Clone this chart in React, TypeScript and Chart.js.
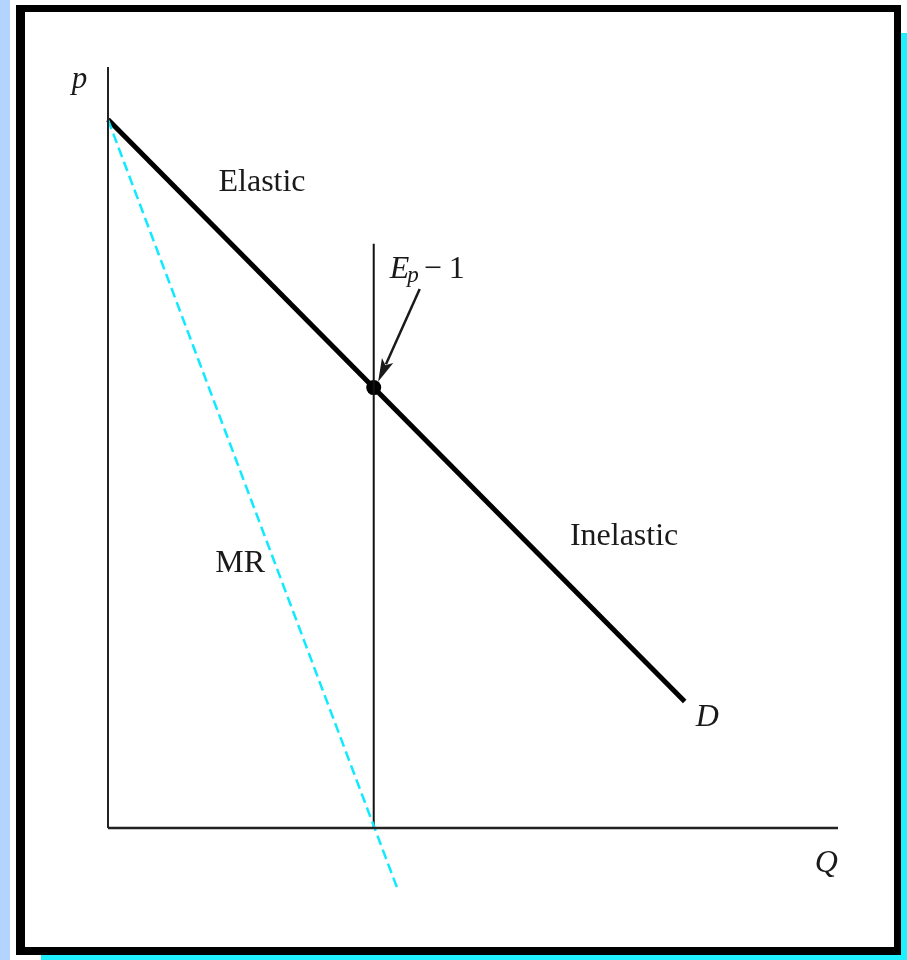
import React, { useEffect, useRef } from "react";
import { Chart, registerables } from "chart.js";

Chart.register(...registerables);

// Quantity (Q) and price (p) values for each curve
const demandQ = [0, 79];
const demandP = [97, 17.3];
const marginalRevenueQ = [0, 39.6];
const marginalRevenueP = [97, -8.2];
const unitElasticQ = [36.4, 36.4];
const unitElasticP = [80, 0];
const unitPointQ = [36.4];
const unitPointP = [60.3];
const quantityAxisQ = [0, 100];
const quantityAxisP = [0, 0];
const priceAxisQ = [0, 0];
const priceAxisP = [104.2, 0];

const Q_MIN = 0;
const Q_MAX = 100;
const P_MIN = -8.5;
const P_MAX = 104.2;

const pts = (qs: number[], ps: number[]) => qs.map((q, i) => ({ x: q, y: ps[i] }));

const SERIF = '"Liberation Serif", "Times New Roman", serif';
const INK = "#1a1a1a";

type Label = { text: string; q: number; p: number; italic?: boolean; size: number; align: CanvasTextAlign };

const labels: Label[] = [
  { text: "p", q: -3.9, p: 102.5, italic: true, size: 31, align: "center" },
  { text: "Elastic", q: 21.1, p: 88.4, size: 32, align: "center" },
  { text: "Inelastic", q: 70.7, p: 39.9, size: 32, align: "center" },
  { text: "MR", q: 18.1, p: 36.2, size: 32, align: "center" },
  { text: "D", q: 82.1, p: 15.1, italic: true, size: 32, align: "center" },
  { text: "Q", q: 98.4, p: -4.9, italic: true, size: 32, align: "center" },
];

// Annotation for the unit-elastic point: "E_p − 1" with an arrow to the dot
const elasticityNote = { q: 38.6, p: 75.3 };
const arrowFrom = { q: 42.7, p: 73.8 };
const arrowTo = { q: 37.0, p: 61.1 };

const annotations = {
  id: "annotations",
  afterDatasetsDraw(chart: any) {
    const { ctx, scales } = chart;
    const X = (q: number) => scales.x.getPixelForValue(q);
    const Y = (p: number) => scales.y.getPixelForValue(p);
    ctx.save();
    ctx.fillStyle = INK;
    ctx.strokeStyle = INK;
    ctx.textBaseline = "middle";
    for (const l of labels) {
      ctx.font = `${l.italic ? "italic " : ""}${l.size}px ${SERIF}`;
      ctx.textAlign = l.align;
      ctx.fillText(l.text, X(l.q), Y(l.p));
    }

    // E_p − 1
    const bx = X(elasticityNote.q);
    const by = Y(elasticityNote.p);
    ctx.textAlign = "left";
    ctx.textBaseline = "alphabetic";
    ctx.font = `italic 32px ${SERIF}`;
    ctx.fillText("E", bx, by);
    const ew = ctx.measureText("E").width;
    ctx.font = `italic 23px ${SERIF}`;
    ctx.fillText("p", bx + ew - 2, by + 4);
    ctx.font = `32px ${SERIF}`;
    ctx.fillText("\u2212", bx + 34, by);
    ctx.fillText("1", bx + 59, by);

    // arrow
    const x1 = X(arrowFrom.q), y1 = Y(arrowFrom.p);
    const x2 = X(arrowTo.q), y2 = Y(arrowTo.p);
    const ang = Math.atan2(y2 - y1, x2 - x1);
    const head = 24;
    const spread = 0.26;
    ctx.lineWidth = 2.5;
    ctx.beginPath();
    ctx.moveTo(x1, y1);
    ctx.lineTo(x2 - Math.cos(ang) * head * 0.8, y2 - Math.sin(ang) * head * 0.8);
    ctx.stroke();
    ctx.beginPath();
    ctx.moveTo(x2, y2);
    ctx.lineTo(x2 - head * Math.cos(ang - spread), y2 - head * Math.sin(ang - spread));
    ctx.lineTo(x2 - head * 0.75 * Math.cos(ang), y2 - head * 0.75 * Math.sin(ang));
    ctx.lineTo(x2 - head * Math.cos(ang + spread), y2 - head * Math.sin(ang + spread));
    ctx.closePath();
    ctx.fill();
    ctx.restore();
  },
};

export default function App() {
  const canvasRef = useRef<HTMLCanvasElement | null>(null);

  useEffect(() => {
    const canvas = canvasRef.current;
    if (!canvas) return;
    const line = (data: any[], color: string, width: number, dash: number[] = []) => ({
      type: "line" as const,
      data,
      borderColor: color,
      borderWidth: width,
      borderDash: dash,
      pointRadius: 0,
      tension: 0,
      fill: false,
      clip: false as any,
    });
    const chart = new Chart(canvas, {
      type: "line",
      data: {
        datasets: [
          line(pts(priceAxisQ, priceAxisP), "#222", 2),
          line(pts(quantityAxisQ, quantityAxisP), "#222", 2.5),
          line(pts(marginalRevenueQ, marginalRevenueP), "#10eaff", 2.5, [10, 5]),
          line(pts(unitElasticQ, unitElasticP), "#111", 2),
          line(pts(demandQ, demandP), "#000", 5),
          {
            type: "scatter" as const,
            data: pts(unitPointQ, unitPointP),
            pointRadius: 7.5,
            pointBackgroundColor: "#000",
            pointBorderWidth: 0,
            clip: false as any,
          } as any,
        ],
      },
      options: {
        responsive: false,
        animation: false,
        devicePixelRatio: 1,
        layout: { padding: { left: 108, right: 69, top: 67, bottom: 70 } },
        plugins: { legend: { display: false }, tooltip: { enabled: false } },
        scales: {
          x: { type: "linear", min: Q_MIN, max: Q_MAX, display: false },
          y: { type: "linear", min: P_MIN, max: P_MAX, display: false },
        },
      },
      plugins: [annotations],
    });
    return () => chart.destroy();
  }, []);

  return (
    <div style={{ position: "absolute", left: 0, top: 0, width: 907, height: 960, background: "#fff", overflow: "hidden" }}>
      <div style={{ position: "absolute", left: 0, top: 0, width: 10, height: 960, background: "#b3d5fd" }} />
      <div style={{ position: "absolute", left: 901, top: 33, width: 6, height: 927, background: "#1ff0ff" }} />
      <div style={{ position: "absolute", left: 41, top: 955, width: 866, height: 5, background: "#1ff0ff" }} />
      <div
        style={{
          position: "absolute",
          left: 16,
          top: 5,
          width: 885 - 9 - 7,
          height: 950 - 7 - 8,
          borderStyle: "solid",
          borderColor: "#000",
          borderWidth: "7px 7px 8px 9px",
          background: "#fff",
        }}
      />
      <canvas ref={canvasRef} width={907} height={960} style={{ position: "absolute", left: 0, top: 0, display: "block" }} />
    </div>
  );
}
